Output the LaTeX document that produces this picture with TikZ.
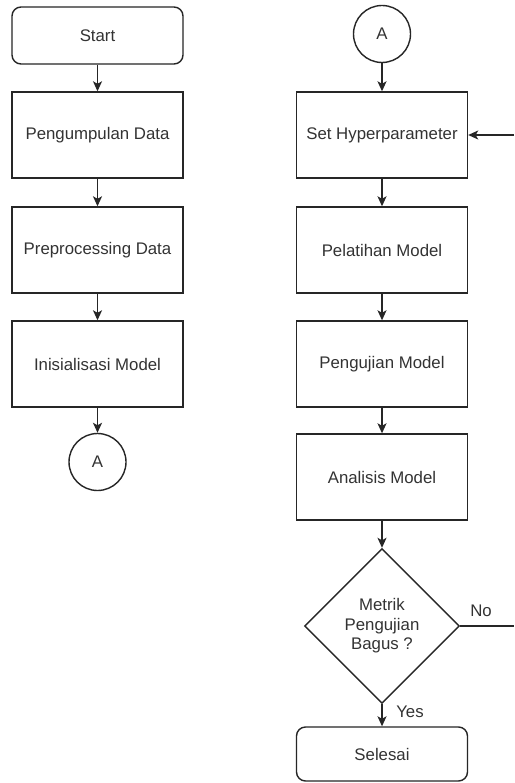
\documentclass[tikz,border=0pt]{standalone}
\usepackage{fontspec}
\setmainfont{Liberation Sans}
\usetikzlibrary{shapes.geometric,arrows.meta}
\begin{document}
\begin{tikzpicture}[x=1pt,y=-1pt,
  every node/.style={font=\fontsize{16.8}{19.5}\selectfont, text=black!80},
  proc/.style={draw=black!85, line width=1.4pt, minimum width=171pt, minimum height=86pt, inner sep=0pt},
  term/.style={proc, rounded corners=9pt, minimum height=57pt},
  conn/.style={draw=black!85, circle, line width=1.4pt, minimum size=57pt, inner sep=0pt},
  dec/.style={draw=black!85, diamond, line width=1.4pt, minimum width=155pt, minimum height=155pt, inner sep=0pt, align=center},
  arr/.style={-{Stealth[length=10pt,width=9pt,inset=2.5pt]}, line width=1.4pt, draw=black!85},
  plain/.style={line width=1.4pt, draw=black!85},
  lbl/.style={inner sep=1pt}]
\useasboundingbox[fill=white] (0,0) rectangle (514,783);
% left column
\node[term] (start) at (97.5,35.5) {Start};
\node[proc] (pd) at (97.5,135) {Pengumpulan Data};
\node[proc] (pre) at (97.5,250) {Preprocessing Data};
\node[proc] (init) at (97.5,364) {Inisialisasi Model};
\node[conn] (a1) at (97.5,462) {A};
% right column
\node[conn] (a2) at (382,34) {A};
\node[proc] (hp) at (382,135) {Set Hyperparameter};
\node[proc] (pel) at (382,250) {Pelatihan Model};
\node[proc] (uji) at (382,364) {Pengujian Model};
\node[proc] (ana) at (382,477) {Analisis Model};
\node[dec] (dec) at (382,626) {Metrik\\Pengujian\\Bagus ?};
\node[term, minimum height=54pt] (end) at (382,754) {Selesai};
% connectors
\draw[arr] (start) -- (pd);
\draw[arr] (pd) -- (pre);
\draw[arr] (pre) -- (init);
\draw[arr] (init) -- (a1);
\draw[arr] (a2) -- (hp);
\draw[arr] (hp) -- (pel);
\draw[arr] (pel) -- (uji);
\draw[arr] (uji) -- (ana);
\draw[arr] (ana) -- (dec);
\draw[arr] (dec) -- (end);
\coordinate (r1) at (514,626);
\coordinate (r2) at (514,135);
\draw[plain] (dec.east) -- (r1);
\draw[arr] (r2) -- (hp.east);
\node[lbl] (no) at (481,611) {No};
\node[lbl] (yes) at (410,712) {Yes};
\end{tikzpicture}
\end{document}
